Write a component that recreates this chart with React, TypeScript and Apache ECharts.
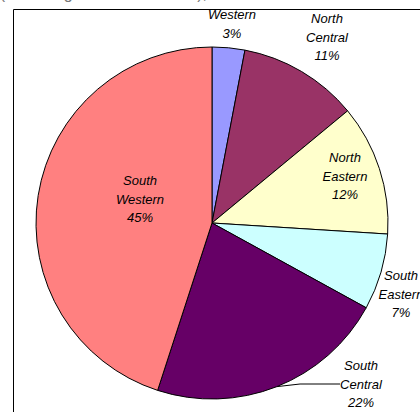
import React, { useEffect, useRef } from "react";
import * as echarts from "echarts";

const regions = ["Western", "North Central", "North Eastern", "South Eastern", "South Central", "South Western"];
const shares = [3, 11, 12, 7, 22, 45];
const colors = ["#9999FF", "#993366", "#FFFFCC", "#CCFFFF", "#660066", "#FF8080"];
const labelCenters: [number, number][] = [
  [232, 24],
  [327, 37],
  [345, 176],
  [401, 294],
  [361, 384],
  [140, 199],
];
const leaderShown = [false, false, false, false, true, false];

export default function App() {
  const ref = useRef<HTMLDivElement>(null);
  useEffect(() => {
    if (!ref.current) return;
    const chart = echarts.init(ref.current, null, { renderer: "svg" });
    chart.setOption({
      animation: false,
      backgroundColor: "#ffffff",
      graphic: [
        {
          type: "text",
          right: 173,
          top: -15,
          style: {
            text: "Regional distribution of expenditure (excluding contractual costs), 1996",
            fill: "#777777",
            font: "16px 'Liberation Sans', Arial, sans-serif",
          },
          silent: true,
        },
        {
          type: "rect",
          shape: { x: 13.5, y: 9.5, width: 600, height: 600 },
          style: { fill: "none", stroke: "#000000", lineWidth: 1 },
          silent: true,
          z: 10,
        },
      ],
      series: [
        {
          type: "pie",
          center: [212, 223],
          radius: 176,
          startAngle: 90,
          clockwise: true,
          silent: true,
          avoidLabelOverlap: false,
          emphasis: { disabled: true },
          itemStyle: { borderColor: "#000000", borderWidth: 1 },
          label: {
            show: true,
            position: "inside",
            overflow: "none",
            color: "#000000",
            fontFamily: "'Liberation Sans', Arial, sans-serif",
            fontStyle: "italic",
            fontSize: 13,
            lineHeight: 18.5,
            align: "center",
            formatter: (p: any) => `${String(p.name).replace(" ", "\n")}\n${Math.round(p.percent)}%`,
          },
          labelLine: { show: false, lineStyle: { color: "#000000", width: 1 } },
          labelLayout: (params: any) => {
            const c = labelCenters[params.dataIndex];
            return { x: c[0], y: c[1], align: "center", verticalAlign: "middle" };
          },
          data: regions.map((name, i) => ({
            name,
            value: shares[i],
            itemStyle: { color: colors[i] },
            label: leaderShown[i] ? { position: "outside" } : undefined,
            labelLine: { show: leaderShown[i], length: 4, length2: 40 },
          })),
        },
      ],
    });
    return () => chart.dispose();
  }, []);
  return (
    <div
      ref={ref}
      style={{ position: "absolute", left: 0, top: 0, width: 420, height: 412 }}
    />
  );
}
